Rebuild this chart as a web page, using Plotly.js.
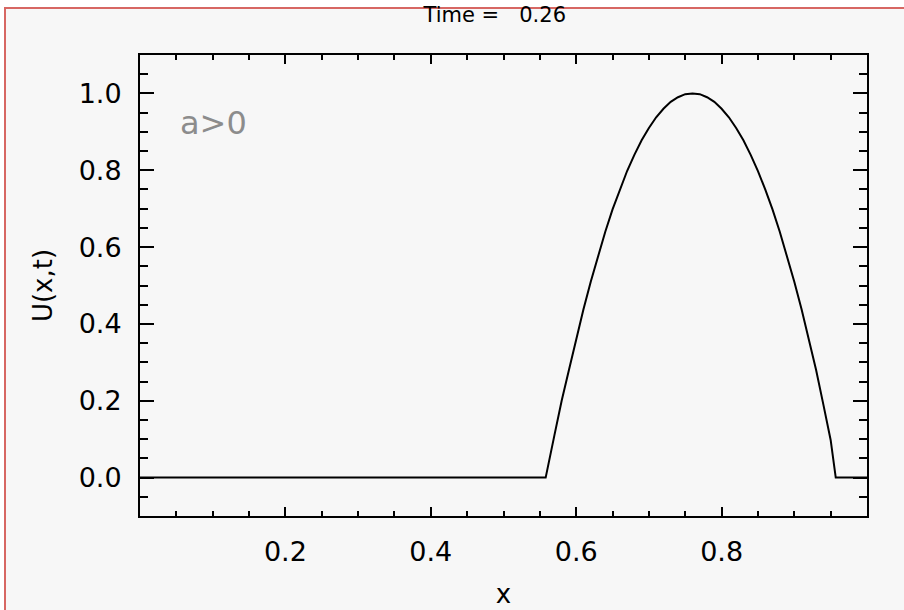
<!DOCTYPE html>
<html>
<head>
<meta charset="utf-8">
<script src="https://cdn.plot.ly/plotly-3.0.1.min.js"></script>
<style>
  html, body { margin: 0; padding: 0; background: #ffffff; overflow: hidden; width: 904px; height: 610px; }
  #frame { position: absolute; left: 4px; top: 7px; width: 902px; height: 610px;
           border-left: 2px solid #d76763; border-top: 2px solid #d76763; background: #f7f7f7; }
  #chart { position: absolute; left: 0; top: 0; width: 904px; height: 610px; }
</style>
</head>
<body>
<div id="frame"></div>
<div id="chart"></div>
<script>
// Solution profile at Time = 0.26
const xValues = [0.00, 0.558, 0.57, 0.58, 0.59, 0.60, 0.61, 0.62, 0.63, 0.64, 0.65,
                 0.66, 0.67, 0.68, 0.69, 0.70, 0.71, 0.72, 0.73, 0.74, 0.75,
                 0.76, 0.77, 0.78, 0.79, 0.80, 0.81, 0.82, 0.83, 0.84, 0.85,
                 0.86, 0.87, 0.88, 0.89, 0.90, 0.91, 0.92, 0.93, 0.94, 0.95,
                 0.957, 1.00];
const uValues = [0.000, 0.000, 0.110, 0.200, 0.280, 0.360, 0.438, 0.510, 0.578, 0.640, 0.698,
                 0.750, 0.798, 0.840, 0.878, 0.910, 0.938, 0.960, 0.978, 0.990, 0.998,
                 1.000, 0.998, 0.990, 0.978, 0.960, 0.938, 0.910, 0.878, 0.840, 0.798,
                 0.750, 0.698, 0.640, 0.578, 0.510, 0.438, 0.360, 0.280, 0.190, 0.098,
                 0.000, 0.000];
const xTickVals = [0.2, 0.4, 0.6, 0.8];
const xTickText = ["0.2", "0.4", "0.6", "0.8"];
const titleText = "Time =\u00a0\u00a0\u00a00.26";
const noteText = "a>0";

const font = "DejaVu Sans, sans-serif";

Plotly.newPlot("chart", [{
  x: xValues, y: uValues, type: "scatter", mode: "lines",
  line: { color: "#000000", width: 2 }, hoverinfo: "none"
}], {
  width: 904, height: 610,
  margin: { l: 140, r: 37, t: 55, b: 94 },
  paper_bgcolor: "rgba(0,0,0,0)", plot_bgcolor: "rgba(0,0,0,0)",
  showlegend: false,
  title: { text: titleText, font: { family: font, size: 21, color: "#000" },
           x: 0.488, xref: "paper", xanchor: "center", y: 0.976, yanchor: "middle" },
  xaxis: {
    range: [0, 1], tickmode: "array", tickvals: xTickVals, ticktext: xTickText,
    ticks: "inside", ticklen: 9, tickwidth: 2, tickcolor: "#000",
    showline: true, linewidth: 2, linecolor: "#000", mirror: "ticks",
    showgrid: false, zeroline: false,
    tickfont: { family: font, size: 27, color: "#000" }, ticklabelstandoff: 11,
    minor: { tickmode: "linear", tick0: 0, dtick: 0.05, ticks: "inside", ticklen: 5,
             tickwidth: 2, tickcolor: "#000", showgrid: false },
    title: { text: "x", font: { family: font, size: 26, color: "#000" }, standoff: 18 }
  },
  yaxis: {
    range: [-0.1, 1.1], tickmode: "linear", tick0: 0, dtick: 0.2, tickformat: ".1f",
    ticks: "inside", ticklen: 14, tickwidth: 2, tickcolor: "#000",
    showline: true, linewidth: 2, linecolor: "#000", mirror: "ticks",
    showgrid: false, zeroline: false,
    tickfont: { family: font, size: 27, color: "#000" }, ticklabelstandoff: 11,
    minor: { tickmode: "linear", tick0: 0, dtick: 0.05, ticks: "inside", ticklen: 8,
             tickwidth: 2, tickcolor: "#000", showgrid: false },
    title: { text: "U(x,t)", font: { family: font, size: 26, color: "#000" }, standoff: 19 }
  },
  annotations: [{
    text: noteText, xref: "paper", yref: "paper", x: 0.052, y: 0.852,
    xanchor: "left", yanchor: "middle", showarrow: false,
    font: { family: font, size: 32, color: "#8c8c8c" }
  }]
}, { staticPlot: true, displayModeBar: false });
</script>
</body>
</html>
